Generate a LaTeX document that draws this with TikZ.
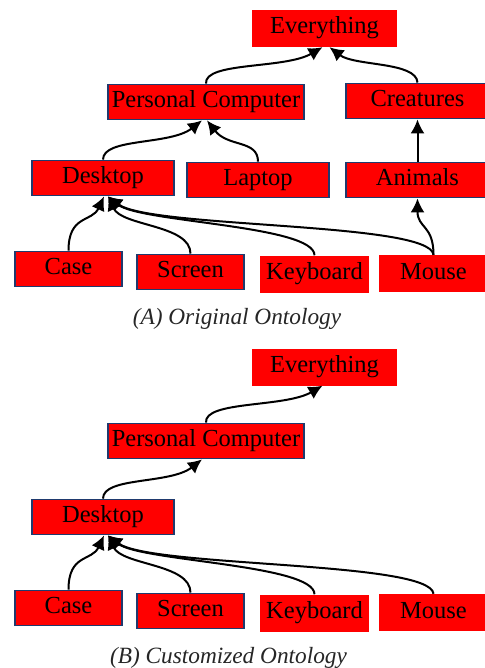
\documentclass[tikz,border=0pt]{standalone}
\usepackage{fontspec}
\setmainfont{Liberation Serif}
\usetikzlibrary{arrows.meta}

\definecolor{boxred}{HTML}{FF0000}
\definecolor{boxline}{HTML}{1F3A6E}
\definecolor{captiongray}{HTML}{262626}

\tikzset{
  concept/.style={fill=boxred, inner sep=0pt, text height=16pt, text depth=5pt,
    font=\fontsize{24.5}{28}\selectfont},
  framed/.style={concept, draw=boxline, line width=1.8pt},
  plain/.style={concept, draw=none},
  isa/.style={draw=black, line width=2pt,
    -{Latex[length=14pt,width=14pt]}},
  caption/.style={anchor=base, text=captiongray,
    font=\fontsize{23.3}{28}\selectfont\itshape}
}

\begin{document}
\begin{tikzpicture}[x=1pt,y=-1pt]
  \useasboundingbox (0,0) rectangle (484,668);
  \fill[white] (0,0) rectangle (484,668);

  % ---------- (A) original ontology ----------
  \node[plain,  minimum width=145pt, minimum height=37pt] (eve) at (324.5,28.5) {Everything};
  \node[framed, minimum width=196pt, minimum height=35pt] (pc)  at (206,102) {Personal Computer};
  \node[framed, minimum width=143pt, minimum height=35pt] (cre) at (417.5,101) {Creatures};
  \node[framed, minimum width=142pt, minimum height=35pt] (desk) at (103,178) {Desktop};
  \node[framed, minimum width=142pt, minimum height=35pt] (lap) at (258,180) {Laptop};
  \node[framed, minimum width=143pt, minimum height=35pt] (ani) at (417.5,180) {Animals};
  \node[framed, minimum width=107pt, minimum height=35pt] (case) at (68.5,269) {Case};
  \node[framed, minimum width=107pt, minimum height=35pt] (scr) at (190.5,272) {Screen};
  \node[plain,  minimum width=109pt, minimum height=37pt] (key) at (314.5,274) {Keyboard};
  \node[plain,  minimum width=109pt, minimum height=37pt] (mouse) at (433.5,273.5) {Mouse};

  \draw[isa] (pc.north) .. controls +(-2,-22) and +(-38,22) .. ([xshift=-2pt]eve.south);
  \draw[isa] (cre.north) .. controls +(-1,-21) and +(25,19) .. ([xshift=5pt]eve.south);
  \draw[isa] (desk.north) .. controls +(0,-22) and +(-32,25) .. ([xshift=-4pt]pc.south);
  \draw[isa] (lap.north) .. controls +(0,-22) and +(21,27) .. ([xshift=1pt]pc.south);
  \draw[isa] (ani.north) -- (cre.south);
  \draw[isa] (mouse.north) .. controls +(0,-30) and +(0,30) .. (ani.south);
  \draw[isa] (case.north) .. controls +(0,-36) and +(-12,26) .. ([xshift=1pt]desk.south);
  \draw[isa] (scr.north) .. controls +(0,-29) and +(14,30) .. ([xshift=5pt]desk.south);
  \draw[isa] (key.north) .. controls +(0,-30) and +(32,26) .. ([xshift=5pt]desk.south);
  \draw[isa] (mouse.north) .. controls +(-3,-33) and +(42,32) .. ([xshift=5pt]desk.south);

  \node[caption] (capA) at (237,324) {(A) Original Ontology};

  % ---------- (B) customized ontology ----------
  \node[plain,  minimum width=145pt, minimum height=37pt] (beve) at (324.5,367) {Everything};
  \node[framed, minimum width=196pt, minimum height=35pt] (bpc)  at (206,441) {Personal Computer};
  \node[framed, minimum width=142pt, minimum height=35pt] (bdesk) at (103,517) {Desktop};
  \node[framed, minimum width=107pt, minimum height=35pt] (bcase) at (68.5,608) {Case};
  \node[framed, minimum width=107pt, minimum height=35pt] (bscr) at (190.5,611) {Screen};
  \node[plain,  minimum width=109pt, minimum height=37pt] (bkey) at (314.5,613) {Keyboard};
  \node[plain,  minimum width=109pt, minimum height=37pt] (bmouse) at (433.5,612.5) {Mouse};

  \draw[isa] (bpc.north) .. controls +(-2,-22) and +(-38,22) .. ([xshift=-2pt]beve.south);
  \draw[isa] (bdesk.north) .. controls +(0,-22) and +(-32,25) .. ([xshift=-4pt]bpc.south);
  \draw[isa] (bcase.north) .. controls +(0,-36) and +(-12,26) .. ([xshift=1pt]bdesk.south);
  \draw[isa] (bscr.north) .. controls +(0,-29) and +(14,30) .. ([xshift=5pt]bdesk.south);
  \draw[isa] (bkey.north) .. controls +(0,-30) and +(32,26) .. ([xshift=5pt]bdesk.south);
  \draw[isa] (bmouse.north) .. controls +(-3,-33) and +(42,32) .. ([xshift=5pt]bdesk.south);

  \node[caption] (capB) at (228.5,663) {(B) Customized Ontology};
\end{tikzpicture}
\end{document}
